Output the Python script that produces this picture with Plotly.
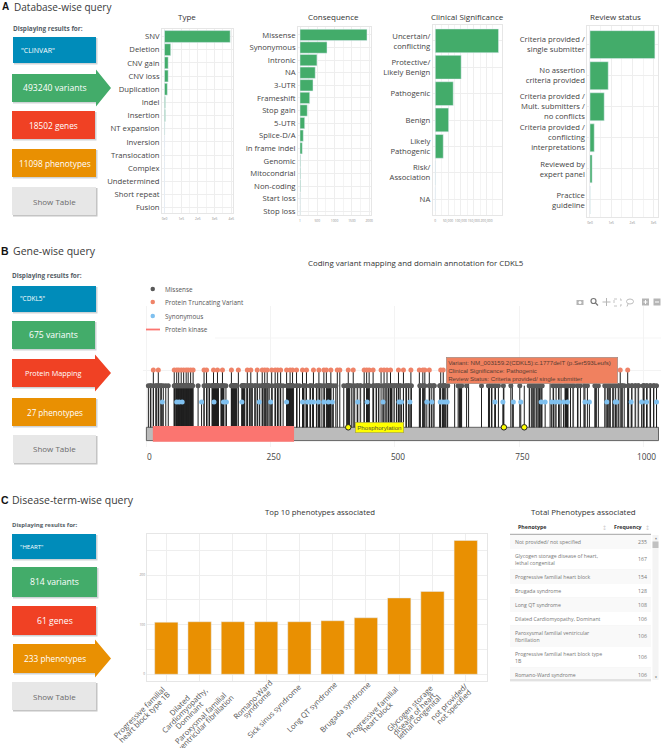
import plotly.graph_objects as go

W, H = 661, 748

# colours of the query boxes
BLUE, GREEN, RED, ORANGE, GREY = "#008cba", "#43ac6a", "#f04124", "#e99002", "#e7e7e7"

# panel A
a_boxes = ['"CLINVAR"', "493240 variants", "18502 genes", "11098 phenotypes", "Show Table"]
type_names = ["SNV", "Deletion", "CNV gain", "CNV loss", "Duplication", "Indel", "Insertion", "NT expansion",
              "Inversion", "Translocation", "Complex", "Undetermined", "Short repeat", "Fusion"]
type_values = [393000, 37000, 22000, 22000, 17000, 5000, 5000, 2000, 300, 300, 200, 200, 100, 50]
type_ticks = [0, 100000, 200000, 300000, 400000]
type_ticktext = ["0e0", "1e5", "2e5", "3e5", "4e5"]

cons_names = ["Missense", "Synonymous", "Intronic", "NA", "3-UTR", "Frameshift", "Stop gain", "5-UTR", "Splice-D/A",
              "In frame indel", "Genomic", "Mitocondrial", "Non-coding", "Start loss", "Stop loss"]
cons_values = [1936, 780, 490, 440, 375, 280, 210, 135, 95, 65, 15, 15, 15, 3, 3]
cons_ticks = [1, 500, 1000, 1500, 2000]

clin_names = ["Uncertain/<br>conflicting", "Protective/<br>Likely Benign", "Pathogenic", "Benign",
              "Likely<br>Pathogenic", "Risk/<br>Association", "NA"]
clin_values = [247000, 101000, 70000, 52000, 31000, 500, 100]
clin_ticks = [0, 50000, 100000, 150000, 200000]
clin_ticktext = ["0", "50,000", "100,000", "150,000", "200,000"]

review_names = ["Criteria provided /<br>single submitter", "No assertion<br>criteria provided",
                "Criteria provided /<br>Mult. submitters /<br>no conflicts",
                "Criteria provided /<br>conflicting<br>interpretations", "Reviewed by<br>expert panel",
                "Practice<br>guideline"]
review_values = [306000, 86000, 67000, 20000, 10000, 500]
review_ticks = [0, 100000, 200000, 300000]
review_ticktext = ["0e0", "1e5", "2e5", "3e5"]

# panel B
b_boxes = ['"CDKL5"', "675 variants", "Protein Mapping", "27 phenotypes", "Show Table"]
protein_length = 1030
kinase_start, kinase_end = 13, 297
missense_pos = [4, 8, 14, 19, 24, 29, 34, 39, 44, 56, 61, 66, 71, 75, 81, 86, 91, 104, 116, 121, 126, 132, 137, 143,
                150, 155, 160, 171, 177, 182, 192, 197, 202, 207, 212, 218, 223, 228, 234, 240, 247, 253, 259, 264,
                269, 275, 285, 291, 296, 302, 308, 316, 321, 329, 334, 342, 348, 353, 358, 364, 369, 376, 381, 397,
                403, 408, 413, 419, 424, 430, 438, 443, 448, 456, 462, 467, 476, 482, 487, 493, 498, 503, 510,
                517, 522, 527, 533, 550, 556, 560, 569, 574, 578, 590, 596, 600, 605, 627, 634, 644, 674, 688, 694,
                701, 708, 718, 733, 751, 770, 775, 779, 785, 790, 795, 818, 824, 829, 834, 842, 847, 853, 858, 867,
                873, 882, 887, 902, 909, 922, 927, 932, 938, 943, 949, 956, 961, 969, 976, 983, 989, 999, 1006,
                1013, 1020, 1026,
                # the dark clusters, where the stems sit on top of each other
                57, 58, 60, 62, 63, 64, 65, 67, 68, 69, 70, 72, 73, 74, 76, 77, 78, 79, 80, 82, 83, 84, 85, 87, 88,
                89, 90, 92, 93, 133, 134, 135, 136, 138, 139, 140, 141, 142, 144, 145, 172, 173, 174, 175, 176, 178,
                179, 180, 181, 193, 194, 195, 196, 198, 283, 284, 286, 287, 288, 289, 290, 292, 293, 294, 363, 365,
                366, 367, 368, 370, 371, 444, 445, 446, 447, 629, 630, 631, 632, 633, 9, 20, 25, 30, 122, 127, 151,
                156, 203, 208, 213, 219, 260, 265, 270, 303, 317, 330, 343, 349, 404, 409, 457, 463, 488, 494, 523,
                551, 557, 570, 591, 597, 601, 695, 702, 771, 776, 780, 791, 792, 819, 830, 843, 845, 848, 868, 903,
                933, 939, 957, 970, 1000, 1001, 1007, 1014]
missense_pale = [233, 235, 236, 237, 238, 239, 241, 242, 243, 244, 245, 404, 425, 431, 468, 481, 499, 504, 511, 528,
                 579, 606, 783, 786, 796, 859, 923, 928, 944, 950, 977, 984, 990, 1021]
truncating_pos = [14, 24, 56, 61, 65, 70, 75, 80, 84, 89, 94, 116, 121, 135, 143, 153, 171, 185, 203, 210, 223, 233,
                  238, 243, 252, 259, 264, 270, 282, 289, 294, 302, 314, 322, 336, 347, 357, 362, 371, 384, 389, 406,
                  416, 438, 443, 448, 456, 472, 478, 484, 491, 507, 517, 532, 549, 556, 560, 569, 592, 597, 620, 648,
                  690, 736, 788, 812, 846, 880, 905, 930, 953, 968]
synonymous_pos = [32, 61, 66, 72, 111, 136, 155, 161, 192, 227, 250, 282, 314, 324, 330, 336, 346, 357, 366, 374, 425,
                  444, 476, 508, 513, 530, 564, 574, 591, 596, 601, 605, 701, 717, 738, 753, 794, 802, 815, 822, 830,
                  839, 847, 882, 891, 926, 943, 946, 975, 996, 1006, 1026]
phospho_pos = [406, 719, 760]
level_synonymous, level_missense, level_truncating = 1.58, 2.6, 3.58
protein_ticks = [0, 250, 500, 750, 1000]
tooltip_lines = ["Variant: NM_003159.2(CDKL5):c.1777delT (p.Ser593Leufs)", "Clinical Significance: Pathogenic",
                 "Review Status: Criteria provided/ single submitter"]

# panel C
c_boxes = ['"HEART"', "814 variants", "61 genes", "233 phenotypes", "Show Table"]
pheno_names = ["Progressive familial<br>heart block type 1B", "Dilated<br>Cardiomyopathy,<br>Dominant",
               "Paroxysmal familial<br>ventricular fibrillation", "Romano-Ward<br>syndrome", "Sick sinus syndrome",
               "Long QT syndrome", "Brugada syndrome", "Progressive familial<br>heart block",
               "Glycogen storage<br>disease of heart,<br>lethal congenital", "not provided/<br>not specified"]
pheno_values = [105, 106, 106, 106, 106, 108, 114, 154, 167, 270]

table_names = ["Not provided/ not specified", "Glycogen storage disease of heart,<br>lethal congenital",
               "Progressive familial heart block", "Brugada syndrome", "Long QT syndrome",
               "Dilated Cardiomyopathy, Dominant", "Paroxysmal familial ventricular<br>fibrillation",
               "Progressive familial heart block type<br>1B", "Romano-Ward syndrome"]
table_freq = [235, 167, 154, 128, 108, 106, 106, 106, 106]


def px(x):
    return x / W


def py(y):
    return 1 - y / H


fig = go.Figure()
shapes = []
notes = []


def text(x, y, s, size=8, color="#444444", anchor="left", font="Open Sans"):
    notes.append(dict(xref="paper", yref="paper", x=px(x), y=py(y), text=s, showarrow=False, xanchor=anchor,
                      yanchor="middle", align=anchor, font=dict(size=size, color=color, family=font),
                      borderpad=0, borderwidth=0))


def rect(x0, y0, x1, y1, fill, line=None, layer="below"):
    shapes.append(dict(type="rect", xref="paper", yref="paper", x0=px(x0), x1=px(x1), y0=py(y0), y1=py(y1),
                       fillcolor=fill, line=dict(width=0.8 if line else 0, color=line or fill), layer=layer))


def seg(x0, y0, x1, y1, color, width=1, layer="above"):
    shapes.append(dict(type="line", xref="paper", yref="paper", x0=px(x0), x1=px(x1), y0=py(y0), y1=py(y1),
                       line=dict(width=width, color=color), layer=layer))


def disc(x0, y0, x1, y1, color, fill="rgba(0,0,0,0)", width=1):
    shapes.append(dict(type="circle", xref="paper", yref="paper", x0=px(x0), x1=px(x1), y0=py(y0), y1=py(y1),
                       fillcolor=fill, line=dict(width=width, color=color), layer="above"))


def arrow_box(x0, y0, x1, y1, head_top, head_bottom, tip, fill):
    mid = (y0 + y1) / 2
    pts = [(x0, y0), (x1, y0), (x1, head_top), (tip, mid), (x1, head_bottom), (x1, y1), (x0, y1)]
    path = "M " + " L ".join(f"{px(a):.5f},{py(b):.5f}" for a, b in pts) + " Z"
    shapes.append(dict(type="path", xref="paper", yref="paper", path=path, fillcolor=fill, line=dict(width=0),
                       layer="below"))


def query_boxes(labels, boxes, arrow_at, sizes):
    colors = [BLUE, GREEN, RED, ORANGE, GREY]
    for i, (label, b, color) in enumerate(zip(labels, boxes, colors)):
        x0, y0, x1, y1 = b
        rect(x0 + 1, y0 + 1, x1 + 1.5, y1 + 1.5, "#cfd3d6" if i < 4 else "#c4c4c4")
        if i == arrow_at:
            arrow_box(x0, y0, x1, y1, y0 - 4.5, y1 + 4.5, 111, color)
        else:
            rect(x0, y0, x1, y1, color)
        if i == 0:
            text(x0 + 8, (y0 + y1) / 2, label, sizes[0], "#ffffff")
        elif i == 4:
            text((x0 + x1) / 2 + 0.5, (y0 + y1) / 2, label, sizes[4], "#6b6b6b", "center")
        else:
            text((x0 + x1) / 2 + 0.5, (y0 + y1) / 2, label, sizes[i], "#ffffff", "center")


def add_hbar(n, names, values, color, box, xr, yr, ticks, ticktext, tick_size=3.3, minor=None, width=0.9):
    x0, y0, x1, y1 = box
    fig.add_trace(go.Bar(y=list(range(len(names))), x=values, orientation="h", marker=dict(color=color), width=width,
                         xaxis=f"x{n}", yaxis=f"y{n}", showlegend=False))
    fig.layout[f"xaxis{n}"] = dict(domain=[px(x0), px(x1)], anchor=f"y{n}", range=xr, tickvals=ticks, ticktext=ticktext,
                                   tickfont=dict(size=tick_size, color="#8a8a8a", family="Open Sans"), ticks="",
                                   tickangle=0, gridcolor="#eeeeee", gridwidth=0.7, zeroline=False, showline=True,
                                   mirror=True, linecolor="#e6e6e6", linewidth=0.8, fixedrange=True, automargin=False,
                                   ticklabelstandoff=2,
                                   minor=dict(tickvals=minor, showgrid=True, gridcolor="#f4f4f4", gridwidth=0.6) if minor else None)
    fig.layout[f"yaxis{n}"] = dict(domain=[py(y1), py(y0)], anchor=f"x{n}", range=yr, tickmode="array",
                                   tickvals=list(range(len(names))), ticktext=names,
                                   tickfont=dict(size=7.7, color="#444444", family="Open Sans"),
                                   ticks="", gridcolor="#eeeeee", gridwidth=0.7, zeroline=False, showline=True,
                                   mirror=True, linecolor="#e6e6e6", linewidth=0.8, fixedrange=True, automargin=False)


# ---- panel A
text(2, 6.8, "<b>A</b>", 10, "#111111", font="Liberation Sans")
text(13.5, 6.8, "Database-wise query", 10, "#3a3a3a")
text(12.5, 28, "<b>Displaying results for:</b>", 6.4, "#555e66")
query_boxes(a_boxes, [(13, 37, 96, 63), (12, 74, 96, 102), (12, 111, 95, 139), (12, 149, 96, 177), (12, 187, 96, 215)],
            1, [7, 8.6, 8.3, 8.3, 8])
text(187, 16.5, "Type", 8, "#333333", "center")
text(333, 16.5, "Consequence", 8, "#333333", "center")
text(467, 16.5, "Clinical Significance", 8, "#333333", "center")
text(615, 16.5, "Review status", 8, "#333333", "center")
add_hbar(1, type_names, type_values, GREEN, (162, 29, 233, 213), [-15000, 410000], [13.4, -0.57],
         type_ticks, type_ticktext, minor=[50000, 150000, 250000, 350000])
add_hbar(2, cons_names, cons_values, GREEN, (298, 27, 371, 215), [-58, 2052], [14.3, -0.63],
         cons_ticks, [str(v) for v in cons_ticks], minor=[250, 750, 1250, 1750])
add_hbar(3, clin_names, clin_values, GREEN, (432.7, 25, 502, 215), [-10156, 260500], [6.6, -0.6],
         clin_ticks, clin_ticktext, minor=[25000, 75000, 125000, 175000, 225000])
add_hbar(4, review_names, review_values, GREEN, (587.3, 26, 658, 217), [-12700, 320700], [5.55, -0.6],
         review_ticks, review_ticktext, minor=[50000, 150000, 250000])

# ---- panel B
text(1, 251, "<b>B</b>", 10.5, "#111111", font="Liberation Sans")
text(12.5, 251, "Gene-wise query", 10.5, "#3a3a3a")
text(12, 276, "<b>Displaying results for:</b>", 6.4, "#555e66")
query_boxes(b_boxes, [(12, 286, 96, 312), (12, 321, 95, 349), (12, 359, 95, 387), (12, 398, 96, 426), (13, 435, 96, 463)],
            2, [6.5, 8.6, 7.3, 8.1, 8])
text(416, 263, "Coding variant mapping and domain annotation for CDKL5", 7.9, "#333333", "center")


def stems(positions, level, color="#1e1e1e", width=1.0):
    xs, ys = [], []
    for p in positions:
        xs += [p, p, None]
        ys += [0, level, None]
    fig.add_trace(go.Scatter(x=xs, y=ys, mode="lines", line=dict(color=color, width=width), xaxis="x5", yaxis="y5",
                             showlegend=False, hoverinfo="skip"))


def dots(positions, level, color, size=5, line=None):
    fig.add_trace(go.Scatter(x=positions, y=[level] * len(positions), mode="markers", xaxis="x5", yaxis="y5",
                             marker=dict(color=color, size=size, line=line or dict(width=0)), showlegend=False,
                             hoverinfo="skip"))


def block(x0, x1, y0, y1, fill, line):
    fig.add_trace(go.Scatter(x=[x0, x1, x1, x0, x0], y=[y0, y0, y1, y1, y0], mode="lines", fill="toself",
                             fillcolor=fill, line=line, xaxis="x5", yaxis="y5", showlegend=False, hoverinfo="skip"))


block(0, protein_length, -0.83, 0, "#bbbbbb", dict(width=0.9, color="#555555"))
stems(missense_pale, level_missense, "#8c8c8c", 1.2)
stems(missense_pos, level_missense)
stems(truncating_pos, level_truncating)
stems(synonymous_pos, level_synonymous)
stems(phospho_pos, level_missense)
block(kinase_start, kinase_end, -0.9, 0.08, "#fb7570", dict(width=0, color="#fb7570"))
dots(missense_pos + missense_pale, level_missense, "#595959")
dots(truncating_pos, level_truncating, "#ef8368")
dots(synonymous_pos, level_synonymous, "#7fc0ef")
dots(phospho_pos, 0, "#ffff00", 5.5, dict(width=1, color="#222222"))
fig.layout["xaxis5"] = dict(domain=[px(143), px(661)], anchor="y5", range=[-6.8, 1035], tickvals=protein_ticks,
                            tickfont=dict(size=8.3, color="#444444", family="Open Sans"), ticks="", automargin=False,
                            ticklabelstandoff=4, ticklabelshift=3,
                            gridcolor="#f3f3f3", gridwidth=0.8, zeroline=False, fixedrange=True)
fig.layout["yaxis5"] = dict(domain=[py(447), py(306)], anchor="x5", range=[-1.23, 7.58], tickvals=[level_truncating],
                            showticklabels=False, ticks="", gridcolor="#f3f3f3", gridwidth=0.8, zeroline=False,
                            fixedrange=True, automargin=False)
# upper grid line only starts right of the legend
seg(215, 338, 661, 338, "#f3f3f3", 0.8, "below")

# legend drawn by hand: plotly cannot pack the rows this tight
legend_rows = [("Missense", "#595959", 289), ("Protein Truncating Variant", "#ef8368", 302),
               ("Synonymous", "#7fc0ef", 316)]
for name, color, y in legend_rows:
    disc(150.5, y - 2.3, 155, y + 2.3, color, color, 0)
    text(165, y, name, 6.4, "#555555")
seg(146, 329.5, 160, 329.5, "#fb7570", 1.8)
text(165, 329, "Protein kinase", 6.4, "#555555")

# hover label and site tag as they stand in the screenshot
notes.append(dict(xref="paper", yref="paper", x=px(445.5), y=py(370.5), xanchor="left", yanchor="middle", align="left",
                  text="<br>".join(tooltip_lines), showarrow=False, bgcolor="#f0815f", bordercolor="#a08a84",
                  borderwidth=0.7, borderpad=1.5, width=168, font=dict(size=6.15, color="#5a3c32", family="Liberation Sans")))
notes.append(dict(xref="paper", yref="paper", x=px(354.5), y=py(427.5), xanchor="left", yanchor="middle", align="left",
                  text="Phosphorylation", showarrow=False, bgcolor="#ffff00", bordercolor="#aaa84a", borderwidth=0.7,
                  borderpad=1.5, font=dict(size=6.2, color="#555533", family="Liberation Sans")))

# modebar icons
c = "#b5b5b5"
rect(576.5, 300, 583.5, 305, c, None, "above")
disc(578.5, 301, 581.5, 304, "#ffffff", "#ffffff", 0)
disc(591, 298.5, 596, 303.5, "#777777", "rgba(0,0,0,0)", 1.2)
seg(595.5, 303, 598, 305.5, "#777777", 1.3)
seg(606.5, 298, 606.5, 306, c, 1)
seg(602.5, 302, 610.5, 302, c, 1)
shapes.append(dict(type="rect", xref="paper", yref="paper", x0=px(614), x1=px(621), y0=py(299), y1=py(306),
                   line=dict(width=0.8, color=c, dash="dot"), layer="above"))
disc(626.5, 299, 633.5, 304, c, "rgba(0,0,0,0)", 0.9)
seg(628, 304, 627, 306.5, c, 0.9)
rect(642, 298.5, 649, 305.5, c, None, "above")
seg(643.5, 302, 647.5, 302, "#ffffff", 1)
seg(645.5, 300, 645.5, 304, "#ffffff", 1)
rect(653.5, 298.5, 660.5, 305.5, c, None, "above")
seg(655, 302, 659, 302, "#ffffff", 1)

# ---- panel C
text(1, 500, "<b>C</b>", 10.5, "#111111", font="Liberation Sans")
text(12, 500, "Disease-term-wise query", 10.5, "#3a3a3a")
text(12, 525, "<b>Displaying results for:</b>", 6, "#555e66")
query_boxes(c_boxes, [(12, 534, 96, 559), (12, 567, 97, 597), (12, 606, 96, 635), (13, 644, 95, 673), (12, 682, 96, 710)],
            3, [6, 8.6, 8.6, 8.3, 8])
text(320, 512, "Top 10 phenotypes associated", 7.8, "#333333", "center")
fig.add_trace(go.Bar(x=list(range(len(pheno_names))), y=pheno_values, marker=dict(color=ORANGE), width=0.7,
                     xaxis="x6", yaxis="y6", showlegend=False))
fig.layout["xaxis6"] = dict(domain=[px(146.7), px(486.7)], anchor="y6", range=[-0.59, 9.63], tickmode="array",
                            tickvals=list(range(len(pheno_names))), showticklabels=False, ticks="", automargin=False,
                            gridcolor="#eeeeee", gridwidth=0.8, showline=True, mirror=True, linecolor="#e6e6e6",
                            linewidth=0.8, zeroline=False, fixedrange=True)
fig.layout["yaxis6"] = dict(domain=[py(681), py(534)], anchor="x6", range=[-13.6, 283], tickvals=[0, 100, 200],
                            tickfont=dict(size=3.3, color="#8a8a8a", family="Open Sans"), ticks="", automargin=False,
                            gridcolor="#eeeeee", gridwidth=0.8, zeroline=False, showline=True, mirror=True,
                            linecolor="#e6e6e6", linewidth=0.8, fixedrange=True,
                            minor=dict(tickvals=[50, 150, 250], showgrid=True, gridcolor="#eeeeee", gridwidth=0.8))

# rotated labels line by line: a plotly tick label can't tighten its line spacing
SPACING = 6.6 * 0.7071
for i, name in enumerate(pheno_names):
    parts = name.split("<br>")
    longest = max(len(p) for p in parts) * 4.0 * 0.7071
    for k, part in enumerate(parts):
        notes.append(dict(xref="x6", yref="paper", x=i, y=py(684), text=part, showarrow=False, textangle=-45,
                          xanchor="center", yanchor="middle", xshift=1.5 - longest / 2 + k * SPACING,
                          yshift=-(longest / 2 + k * SPACING), font=dict(size=7.6, color="#555555", family="Open Sans")))

text(583, 512, "Total Phenotypes associated", 7.9, "#333333", "center")
text(518, 527, "<b>Phenotype</b>", 5.3, "#333333")
text(643, 527, "<b>Frequency</b>", 5.3, "#333333", "right")
text(604.5, 527, "↕", 6, "#cfcfcf", "center", "DejaVu Sans")
text(647, 527, "↕", 6, "#cfcfcf", "center", "DejaVu Sans")
y = 534.5
for i, (name, freq) in enumerate(zip(table_names, table_freq)):
    h = 21 if "<br>" in name else 14
    rect(510, y, 651, y + h, "#f9f9f9" if i % 2 == 0 else "#ffffff")
    seg(510, y + h, 651, y + h, "#ececec", 0.6, "below")
    text(515, y + h / 2, name, 5.2, "#777777")
    text(647, y + h / 2, str(freq), 5.2, "#777777", "right")
    y += h
seg(510, 534.3, 651, 534.3, "#9a9a9a", 0.9)
seg(510, 680, 651, 680, "#c4c4c4", 0.9)
rect(652.5, 535, 658.5, 680, "#f4f4f4")
rect(652.5, 541.5, 658.5, 548, "#c1c1c1")
text(655.5, 538, "▲", 2.5, "#777777", "center", "DejaVu Sans")
text(655.5, 677, "▼", 2.5, "#777777", "center", "DejaVu Sans")

fig.update_layout(width=W, height=H, margin=dict(l=0, r=0, t=0, b=0, autoexpand=False), paper_bgcolor="#ffffff",
                  plot_bgcolor="#ffffff", shapes=shapes, annotations=notes, showlegend=False, bargap=0.1)
fig.write_html("out.html", config=dict(displayModeBar=False), post_script="document.body.style.margin='0';")
